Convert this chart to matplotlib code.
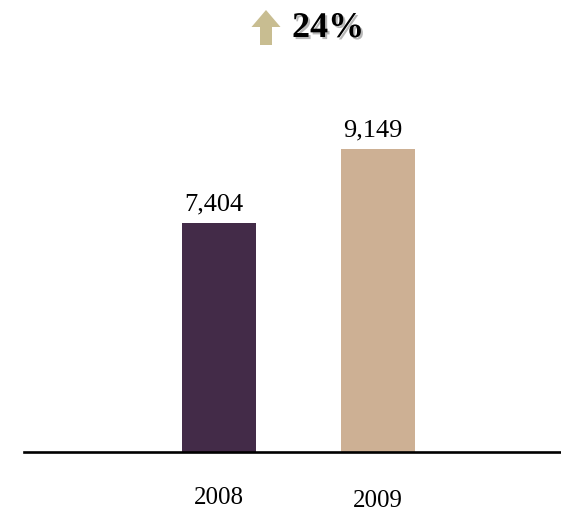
import matplotlib
matplotlib.use('Agg')
import matplotlib.pyplot as plt
import matplotlib.patheffects as pe
from matplotlib.patches import FancyArrow

# data
years = ['2008', '2009']
values = [7404, 9149]
bar_colors = ['#432B48', '#CDB094']
growth_label = '24%'

plt.rcParams['font.family'] = ['Liberation Serif', 'DejaVu Serif']

fig = plt.figure(figsize=(5.61, 5.12), dpi=100)
ax = fig.add_axes([24 / 561, 60 / 512, 537 / 561, 392 / 512])

pos = list(range(len(years)))
ax.bar(pos, values, width=0.465, color=bar_colors, zorder=2)

# value labels above bars
for x, v in zip(pos, values):
    ax.annotate(f'{v:,}', (x, v), xytext=(-4, 9), textcoords='offset points',
                ha='center', va='baseline', fontsize=19, color='black')

# year labels under the baseline (second one sits a little lower)
year_drop = [0, 2]
for x, y, d in zip(pos, years, year_drop):
    ax.annotate(y, (x, 0), xycoords=('data', 'axes fraction'),
                xytext=(0, -33 - d), textcoords='offset points',
                ha='center', va='center', fontsize=18, color='black')

ax.set_xlim(-1.226, 2.151)
ax.set_ylim(2000, 11240)
for side in ['top', 'right', 'left']:
    ax.spines[side].set_visible(False)
ax.spines['bottom'].set_linewidth(1.9)
ax.spines['bottom'].set_color('black')
ax.set_xticks([])
ax.set_yticks([])

# growth indicator: up arrow plus bold percentage
arrow = FancyArrow(2.66, 4.67, 0, 0.35, width=0.12, head_width=0.29,
                   head_length=0.17, length_includes_head=True,
                   color='#C8BD91', linewidth=0, transform=fig.dpi_scale_trans)
fig.patches.append(arrow)

fig.text(2.92 / 5.61, (512 - 37) / 512, growth_label, fontsize=26,
         fontweight='bold', ha='left', va='baseline', color='black',
         path_effects=[pe.SimplePatchShadow(offset=(1.5, -1.5),
                                            shadow_rgbFace='#888888', alpha=0.6),
                       pe.Normal()])

fig.savefig('out.png', dpi=100)
